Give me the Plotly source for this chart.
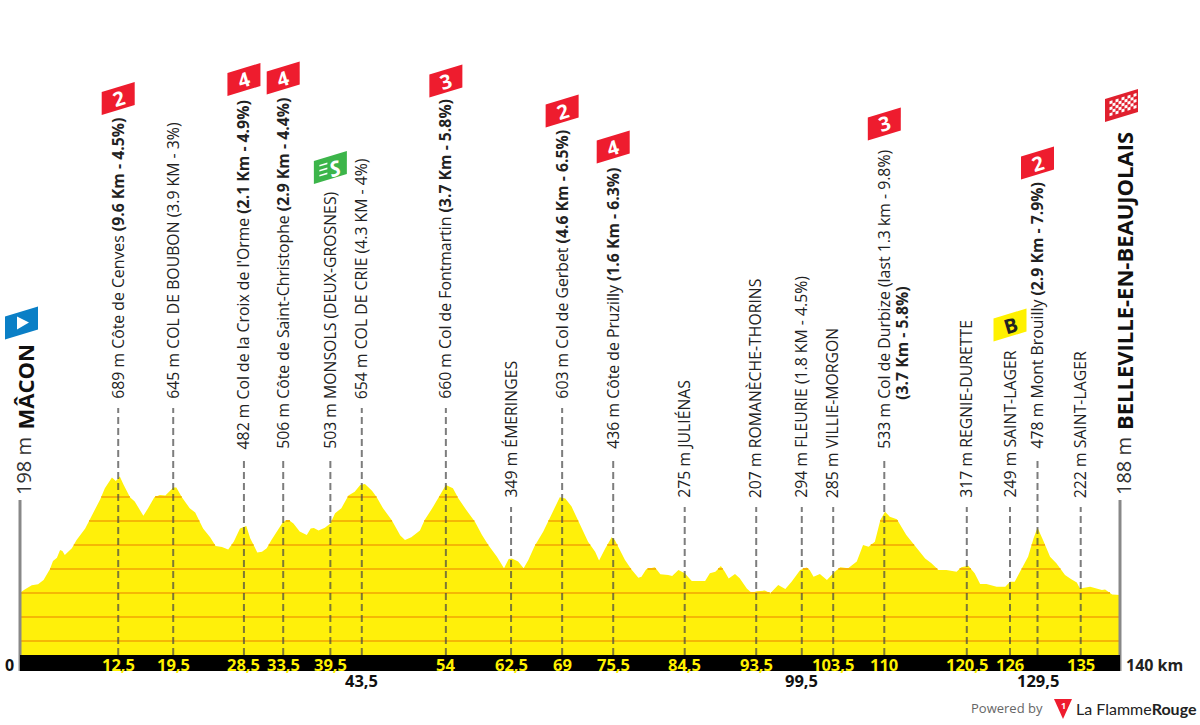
import numpy as np
import plotly.graph_objects as go

W, H = 1200, 725

# profile: km / metres
km = [0, 0.6, 1.5, 2.3, 3.0, 3.8, 4.2, 4.7, 5.1, 5.4, 5.7, 6.6, 7.2, 8.3, 8.9, 9.5, 10.2, 10.8, 11.7, 12.2,
      12.7, 13.2, 14.0, 14.6, 15.7, 16.3, 17.1, 17.8, 18.5, 19.1, 19.5, 19.9, 20.6, 21.6, 22.3, 23.3, 24.2,
      24.9, 25.7, 26.5, 27.2, 28.0, 28.8, 29.3, 30.2, 30.8, 31.4, 32.0, 32.9, 33.5, 34.2, 34.8, 35.6, 36.5,
      37.0, 37.4, 38.0, 38.8, 39.5, 40.1, 40.9, 41.8, 42.6, 43.3, 43.9, 44.8, 45.4, 46.2, 47.3, 48.4, 49.0,
      49.8, 50.9, 51.5, 52.6, 53.5, 54.2, 55.1, 55.8, 56.8, 57.9, 58.8, 59.6, 60.7, 61.2, 61.6, 62.2, 62.6,
      63.4, 64.1, 64.7, 65.5, 66.6, 67.7, 68.7, 69.4, 70.2, 71.3, 72.3, 73.2, 73.7, 74.5, 75.3, 75.7, 76.4,
      77.0, 77.8, 78.7, 79.1, 79.7, 80.8, 81.5, 82.5, 83.0, 83.8, 84.6, 85.5, 87.2, 87.8, 88.5, 89.2, 89.7,
      90.2, 91.0, 91.6, 92.5, 93.1, 93.8, 94.8, 95.5, 96.5, 97.4, 98.2, 99.3, 100.1, 100.5, 101.0, 101.8,
      102.7, 103.7, 104.4, 105.4, 106.5, 107.3, 108.0, 108.8, 109.5, 110.1, 110.7, 111.6, 112.8, 113.9,
      115.2, 116.0, 116.9, 117.9, 119.2, 119.8, 120.7, 121.5, 122.2, 123.0, 124.3, 125.4, 126.0, 126.6,
      127.5, 128.3, 129.0, 129.5, 130.2, 131.1, 131.9, 133.0, 133.8, 134.5, 134.9, 136.2, 137.7, 138.1,
      139.0, 140.0]
elevation = [201, 215, 232, 236, 254, 299, 333, 347, 379, 375, 358, 386, 421, 469, 507, 546, 590, 636, 681, 667,
             685, 650, 599, 581, 522, 553, 599, 608, 606, 626, 640, 640, 599, 553, 535, 469, 432,
             396, 392, 381, 414, 469, 479, 428, 369, 372, 386, 421, 469, 497, 504, 490, 456, 442,
             469, 471, 460, 472, 490, 532, 553, 606, 622, 650, 654, 626, 599, 553, 504, 440, 421,
             432, 460, 504, 560, 608, 650, 636, 594, 546, 497, 442, 400, 351, 324, 303, 342, 344,
             331, 303, 338, 396, 456, 532, 599, 594, 560, 483, 414, 372, 335, 386, 432, 421, 379,
             338, 299, 264, 268, 299, 307, 278, 275, 271, 296, 282, 250, 250, 282, 289, 312, 289,
             260, 279, 261, 219, 201, 207, 210, 199, 233, 217, 247, 296, 306, 296, 268, 279,
             254, 289, 307, 303, 331, 400, 393, 414, 504, 539, 518, 507, 442, 396,
             344, 324, 296, 296, 289, 307, 314, 282, 238, 238, 226, 226, 247, 247,
             303, 351, 428, 472, 421, 351, 324, 275, 257, 244, 219, 226, 212, 215,
             194, 192]

grid_levels = [0, 100, 200, 300, 400, 500, 600]

# intermediate points
stop_km = [12.5, 19.5, 28.5, 33.5, 39.5, 43.5, 54.2, 62.5, 69, 75.5, 84.6, 93.7, 99.5, 103.5, 110, 120.5, 126, 129.5, 135]
stop_km_labels = ["12,5", "19,5", "28,5", "33,5", "39,5", "43,5", "54", "62,5", "69", "75,5", "84,5", "93,5",
                  "99,5", "103,5", "110", "120,5", "126", "129,5", "135"]
stop_labels = [
    "689 m Côte de Cenves <b>(9.6 Km - 4.5%)</b>",
    "645 m COL DE BOUBON (3.9 KM - 3%)",
    "482 m Col de la Croix de l'Orme <b>(2.1 Km - 4.9%)</b>",
    "506 m Côte de Saint-Christophe <b>(2.9 Km - 4.4%)</b>",
    "503 m MONSOLS (DEUX-GROSNES)",
    "654 m COL DE CRIE (4.3 KM - 4%)",
    "660 m Col de Fontmartin <b>(3.7 Km - 5.8%)</b>",
    "349 m ÉMERINGES",
    "603 m Col de Gerbet <b>(4.6 Km - 6.5%)</b>",
    "436 m Côte de Pruzilly <b>(1.6 Km - 6.3%)</b>",
    "275 m JULIÉNAS",
    "207 m ROMANÈCHE-THORINS",
    "294 m FLEURIE (1.8 KM - 4.5%)",
    "285 m VILLIE-MORGON",
    "533 m Col de Durbize (last 1.3 km - 9.8%)",
    "317 m REGNIE-DURETTE",
    "249 m SAINT-LAGER",
    "478 m Mont Brouilly <b>(2.9 Km - 7.9%)</b>",
    "222 m SAINT-LAGER",
]
# pixel row where each label starts
stop_label_bottom = [399, 399, 449, 449, 449, 399, 399, 498, 399, 449, 498, 498, 498, 498, 449, 498, 498, 449, 498]
# these km marks sit on the lower line under the bar
lower_marks = ["43,5", "99,5", "129,5"]

RED = "#ee1c2e"
badges = [(12.5, 98.5, RED, "2"), (28.5, 79.5, RED, "4"), (33.5, 78, RED, "4"), (54.2, 81, RED, "3"),
          (69, 111, RED, "2"), (75.5, 147, RED, "4"), (110, 124, RED, "3"), (129.5, 163, RED, "2"),
          (39.5, 167.5, "#3cb54a", "S"), (126, 325, "#fff100", "B")]


def py(p):
    # pixel row to metres on the y axis
    return (641 - p) / 0.24


def px_to_paper(x, y):
    return x / W, 1 - y / H


def para(x0, y0, x1, y1):
    # skewed box in pixels around the anchor, rises to the right like the flags
    s = 10 / 33
    pts = [(x0, y0 + s * x0), (x1, y0 + s * x1), (x1, y1 + s * x1), (x0, y1 + s * x0)]
    return "M" + " L".join(f"{a:.1f},{b:.1f}" for a, b in pts) + " Z"


fig = go.Figure()

km_arr = np.array(km)
ele_arr = np.array(elevation)
base = py(655)

fig.add_trace(go.Scatter(x=[0] + km + [140], y=[base] + elevation + [base], fill="toself", mode="lines",
                         fillcolor="#fff00a", line=dict(color="#fff00a", width=0), hoverinfo="skip"))

# orange levels only show under the profile
fine_x = np.linspace(0, 140, 5601)
fine_y = np.interp(fine_x, km_arr, ele_arr)
for level in grid_levels:
    gx, gy = [], []
    for xv, yv in zip(fine_x, fine_y):
        if yv >= level:
            gx.append(float(xv))
            gy.append(level)
        elif gx and gx[-1] is not None:
            gx.append(None)
            gy.append(None)
    fig.add_trace(go.Scatter(x=gx, y=gy, mode="lines", line=dict(color="#f5b705", width=2), hoverinfo="skip"))

for k, b in zip(stop_km, stop_label_bottom):
    fig.add_trace(go.Scatter(x=[k, k], y=[base, py(b + 9)], mode="lines", hoverinfo="skip",
                             line=dict(color="rgba(70,70,70,0.7)", width=2, dash="7px,4px")))

# start and finish posts
for k, top in [(0, 500), (140, 500)]:
    fig.add_trace(go.Scatter(x=[k, k], y=[py(671), py(top)], mode="lines", hoverinfo="skip",
                             line=dict(color="#888888", width=3)))

shapes = [dict(type="rect", xref="x", yref="y", x0=0, x1=140, y0=py(671), y1=base,
               fillcolor="black", line=dict(width=0), layer="above")]
annots = []


def text(x, y, s, size, color="#222222", angle=0, xanchor="center", yanchor="middle", family="Open Sans"):
    xp, yp = px_to_paper(x, y)
    annots.append(dict(xref="paper", yref="paper", x=xp, y=yp, text=s, showarrow=False, textangle=angle,
                       xanchor=xanchor, yanchor=yanchor, borderpad=0, font=dict(family=family, size=size, color=color)))


def km_px(k):
    return 20 + k * 1100 / 140


for k, lab, b, s in zip(stop_km, stop_km_labels, stop_label_bottom, stop_labels):
    x = km_px(k)
    text(x - 1, b + 1, s, 15.8, angle=-90, yanchor="bottom")
    if lab in lower_marks:
        text(x, 680, f"<b>{lab}</b>", 16.5, color="#111111")
    else:
        text(x, 664, f"<b>{lab}</b>", 16.5, color="#fff100")
text(km_px(110) + 17, 401, "<b>(3.7 Km - 5.8%)</b>", 15.8, angle=-90, yanchor="bottom")

# start and finish names
text(23, 496, '198 m', 20, angle=-90, yanchor="bottom", color="#333333")
text(24, 431, "<b>MÂCON</b>", 22, angle=-90, yanchor="bottom", color="#111111")
text(1123, 496, '188 m', 20, angle=-90, yanchor="bottom", color="#333333")
text(1124, 431, "<b>BELLEVILLE-EN-BEAUJOLAIS</b>", 22, angle=-90, yanchor="bottom", color="#111111")

text(9, 665, "<b>0</b>", 16, color="#111111")
text(1125, 665, "<b>140 km</b>", 16, color="#222222", xanchor="left")

# flags
for k, cy, color, lab in badges:
    shapes.append(dict(type="path", xref="x", yref="y", xsizemode="pixel", ysizemode="pixel", xanchor=k, yanchor=py(cy),
                       path=para(-16.5, -11.5, 16.5, 11.5), fillcolor=color, line=dict(width=0)))
    if lab == "S":
        text(km_px(k) + 5, cy, f"<b><i>{lab}</i></b>", 21, color="white", angle=-17)
        for dy in (-5, 0, 5):
            shapes.append(dict(type="path", xref="x", yref="y", xsizemode="pixel", ysizemode="pixel", xanchor=k,
                               yanchor=py(cy), path=para(-11, dy - 0.8, -3, dy + 0.8), fillcolor="white", line=dict(width=0)))
    elif lab == "B":
        text(km_px(k), cy, f"<b>{lab}</b>", 20, color="#222222", angle=-17)
    else:
        text(km_px(k), cy, f"<b>{lab}</b>", 20, color="white", angle=-17)

# start flag
start_y = py(323.5)
shapes.append(dict(type="path", xref="x", yref="y", xsizemode="pixel", ysizemode="pixel", xanchor=0, yanchor=start_y,
                   path=para(-15, -11.5, 18, 11.5), fillcolor="#0a7fc6", line=dict(width=0)))
shapes.append(dict(type="path", xref="x", yref="y", xsizemode="pixel", ysizemode="pixel", xanchor=0, yanchor=start_y,
                   path="M-3,7 L9,1 L-3,-6 Z", fillcolor="white", line=dict(width=0)))

# finish flag with chequers
fin_y = py(106)
shapes.append(dict(type="path", xref="x", yref="y", xsizemode="pixel", ysizemode="pixel", xanchor=140, yanchor=fin_y,
                   path=para(-15, -11.5, 18, 11.5), fillcolor="#e0202e", line=dict(width=0)))
for row in range(5):
    for col in range(9):
        if (row + col) % 2 == 0:
            x0 = -10.5 + col * 3
            y0 = -7 + row * 3
            shapes.append(dict(type="path", xref="x", yref="y", xsizemode="pixel", ysizemode="pixel", xanchor=140, yanchor=fin_y,
                               path=para(x0, y0, x0 + 3, y0 + 3), fillcolor="white", line=dict(width=0)))

# logo
text(1044, 708, "Powered by", 13, color="#666666", xanchor="right")
lx0, ly0 = px_to_paper(1054, 699)
lx1, ly1 = px_to_paper(1072, 699)
lx2, ly2 = px_to_paper(1063, 719)
shapes.append(dict(type="path", xref="paper", yref="paper",
                   path=f"M{lx0},{ly0} L{lx1},{ly1} L{lx2},{ly2} Z", fillcolor=RED, line=dict(width=0)))
text(1063, 705, "<b>1</b>", 9, color="white")
text(1075, 708, "La Flamme<b>Rouge</b>", 16, color="#222222", xanchor="left", family="Lato")

fig.update_layout(
    width=W, height=H, margin=dict(l=0, r=0, t=0, b=0), showlegend=False,
    paper_bgcolor="white", plot_bgcolor="white",
    xaxis=dict(visible=False, range=[-20 * 140 / 1100, (W - 20) * 140 / 1100], fixedrange=True),
    yaxis=dict(visible=False, range=[py(H), py(0)], fixedrange=True),
    shapes=shapes, annotations=annots,
)

# the page's default body margin would push the figure off by 8px
fig.write_html("out.html", config=dict(displayModeBar=False), post_script="document.body.style.margin = '0';")
